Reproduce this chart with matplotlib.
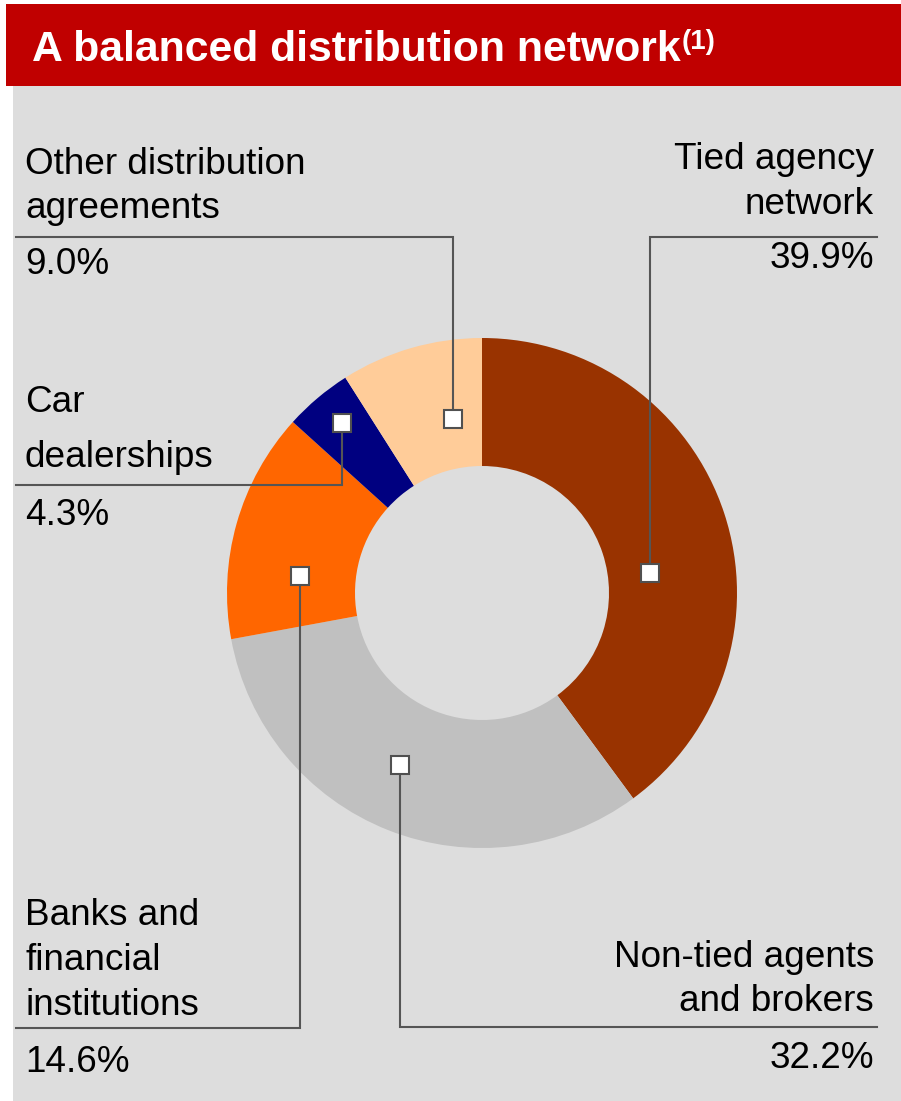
import numpy as np
import matplotlib.pyplot as plt
from matplotlib.patches import Rectangle

plt.rcParams['font.family'] = ['Liberation Sans', 'DejaVu Sans']

# data
categories = ["Tied agency\nnetwork", "Non-tied agents\nand brokers",
              "Banks and\nfinancial\ninstitutions", "Car\ndealerships",
              "Other distribution\nagreements"]
shares = [39.9, 32.2, 14.6, 4.3, 9.0]
share_labels = ["39.9%", "32.2%", "14.6%", "4.3%", "9.0%"]
colors = ["#993300", "#C0C0C0", "#FF6600", "#000080", "#FFCC99"]

# layout (pixels, measured from the top of the picture)
W, H = 901, 1101
cx, cy = 482, 593
R = 255
anchor_ang = [6.8, 244.5, 174.7, 129.5, 99.5]
anchor_rad = [0.664, 0.747, 0.717, 0.864, 0.692]
elbow_y = [237, 1027, 1028, 485, 237]
side = ['right', 'right', 'left', 'left', 'left']
first_base = [169, 967, 925, 412, 174]
line_gap = [44.5, 44, 45, 55, 44]
pct_base = [268, 1068, 1072, 525, 274]


def Y(p):
    return H - p


fig = plt.figure(figsize=(W / 100, H / 100), dpi=100)
ax = fig.add_axes([0, 0, 1, 1])

ax.add_patch(Rectangle((13, 0), W - 13, Y(86), color='#DDDDDD', lw=0))
ax.add_patch(Rectangle((6, Y(86)), W - 6, 82, color='#C00000', lw=0))

ax.pie(shares, colors=colors, startangle=90, counterclock=False, radius=R,
       center=(cx, Y(cy)), wedgeprops=dict(width=128, linewidth=0))

ax.set_xlim(0, W)
ax.set_ylim(0, H)
ax.set_aspect('auto')
ax.axis('off')

for i in range(len(shares)):
    a = np.radians(anchor_ang[i])
    mx = cx + anchor_rad[i] * R * np.cos(a)
    my = cy - anchor_rad[i] * R * np.sin(a)
    if side[i] == 'right':
        x_end, tx, ha = 877, 874, 'right'
    else:
        x_end, tx, ha = 16, 25, 'left'
    ax.plot([mx, mx, x_end], [Y(my), Y(elbow_y[i]), Y(elbow_y[i])],
            color='#555555', lw=1.5, solid_joinstyle='miter')
    ax.plot(mx, Y(my), marker='s', ms=13.5, mfc='white', mec='#505050', mew=1.5)
    for j, line in enumerate(categories[i].split('\n')):
        ax.text(tx, Y(first_base[i] + line_gap[i] * j), line, fontsize=26.6,
                ha=ha, va='baseline', color='black')
    ax.text(tx, Y(pct_base[i]), share_labels[i], fontsize=26.6,
            ha=ha, va='baseline', color='black')

ax.text(32, Y(61), "A balanced distribution network", color='white',
        fontsize=30.8, fontweight='bold', va='baseline')
ax.text(682, Y(49), "(1)", color='white', fontsize=20, fontweight='bold',
        va='baseline')

fig.savefig('out.png', dpi=100, facecolor='white')
plt.close('all')
